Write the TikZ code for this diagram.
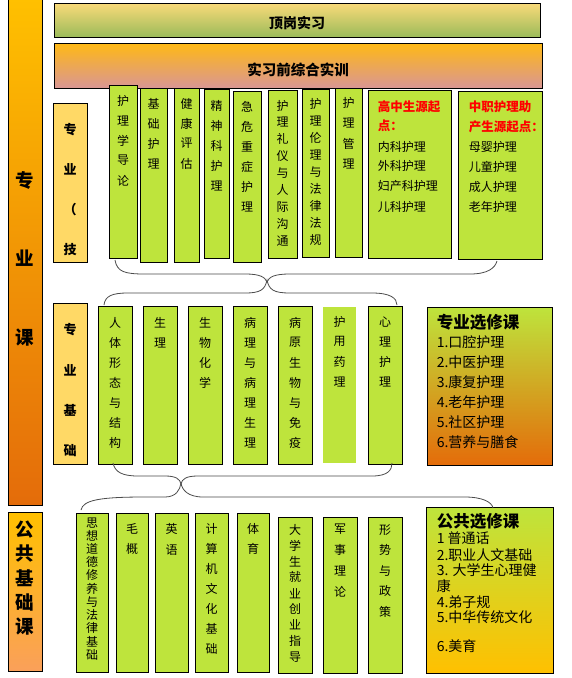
\documentclass[tikz,border=0pt]{standalone}
\usepackage{fontspec}
\newfontfamily\cjk{Noto Sans CJK SC}
\usetikzlibrary{calc}

\definecolor{kgreen}{RGB}{190,228,60}
\definecolor{ktan}{RGB}{255,217,102}
\definecolor{kgold}{RGB}{255,192,0}
\definecolor{korange}{RGB}{228,108,10}
\definecolor{kolive}{RGB}{155,187,89}
\definecolor{kcream}{RGB}{250,218,122}
\definecolor{kamber}{RGB}{255,185,20}
\definecolor{kpink}{RGB}{217,150,148}
\definecolor{kpeach}{RGB}{250,160,90}

\tikzset{
  box/.style={draw, line width=0.8pt, inner sep=0pt},
  col/.style={box, fill=kgreen},
  vch/.style={font={\cjk\fontsize{12}{12}\selectfont}, inner sep=0pt},
  tanch/.style={font={\cjk\bfseries\fontsize{13}{13}\selectfont}, inner sep=0pt},
  bigch/.style={font={\cjk\bfseries\fontsize{18.5}{18.5}\selectfont}, inner sep=0pt},
  item/.style={font={\cjk\fontsize{12}{12}\selectfont}, inner sep=0pt, anchor=west},
  reditem/.style={item, font={\cjk\bfseries\fontsize{12.5}{12.5}\selectfont}, text=red},
  optitem/.style={item, font={\cjk\fontsize{14}{14}\selectfont}},
  opttitle/.style={item, font={\cjk\bfseries\fontsize{16.5}{16.5}\selectfont}},
  brace/.style={line width=0.8pt, black!70},
}

% vertical text: box name, first offset, step, characters
\newcommand{\vtext}[5][vch]{%
  \foreach \ch [count=\i from 0] in {#5}
    \node[#1] (#2-\i) at ($(#2.north)+(0,{#3+\i*#4})$) {\ch};}

\begin{document}
\begin{tikzpicture}[x=1pt,y=-1pt]
	\path[use as bounding box, fill=white] (0,0) rectangle (571,678);

	% Bars
	\node[box, top color=kgold, bottom color=korange, minimum width=34pt, minimum height=506pt] (lbar) at (25,252) {};
	\node[box, top color=kcream, bottom color=kolive, minimum width=486pt, minimum height=34pt] (top) at (297,20) {};
	\node[box, top color=kamber, bottom color=kpink, minimum width=488pt, minimum height=45pt] (pre) at (298,65.5) {};
	\node[font={\cjk\bfseries\fontsize{14}{14}\selectfont}] (top-t) at ($(top.center)+(0,3)$) {顶岗实习};
	\node[font={\cjk\bfseries\fontsize{14.5}{14.5}\selectfont}] (pre-t) at ($(pre.center)+(0,4)$) {实习前综合实训};
	\node[bigch] (lbar-0) at (25,180) {专};
	\node[bigch] (lbar-1) at (25,258) {业};
	\node[bigch] (lbar-2) at (25,338) {课};

	% Top row
	\node[box, fill=ktan, minimum width=34pt, minimum height=159pt] (zy1) at (70,182.5) {};
	\node[col, minimum width=28pt, minimum height=173pt] (t1) at (123,171.5) {};
	\node[col, minimum width=27pt, minimum height=174pt] (t2) at (153.5,175) {};
	\node[col, minimum width=25pt, minimum height=174pt] (t3) at (186.5,175) {};
	\node[col, minimum width=25pt, minimum height=169pt] (t4) at (216.5,173.5) {};
	\node[col, minimum width=28pt, minimum height=171pt] (t5) at (247,176.5) {};
	\node[col, minimum width=29pt, minimum height=168pt] (t6) at (282.5,174) {};
	\node[col, minimum width=27pt, minimum height=168pt] (t7) at (315.5,173) {};
	\node[col, minimum width=27pt, minimum height=169pt] (t8) at (348.5,172.5) {};
	\node[col, minimum width=83pt, minimum height=168pt] (t9) at (409.5,174) {};
	\node[col, minimum width=84pt, minimum height=168pt] (t10) at (500,175) {};

	\vtext[tanch]{zy1}{27}{40}{专,业,（,技}
	\vtext{t1}{16}{20}{护,理,学,导,论}
	\vtext{t2}{16}{20}{基,础,护,理}
	\vtext{t3}{16}{20}{健,康,评,估}
	\vtext{t4}{17}{20}{精,神,科,护,理}
	\vtext{t5}{16}{20}{急,危,重,症,护,理}
	\vtext{t6}{16}{16.9}{护,理,礼,仪,与,人,际,沟,通}
	\vtext{t7}{15}{17.1}{护,理,伦,理,与,法,律,法,规}
	\vtext{t8}{15}{20.5}{护,理,管,理}

	\node[reditem] (t9-0) at ($(t9.north west)+(10,17)$) {高中生源起};
	\node[reditem] (t9-1) at ($(t9.north west)+(10,36)$) {点：};
	\node[item] (t9-2) at ($(t9.north west)+(10,57)$) {内科护理};
	\node[item] (t9-3) at ($(t9.north west)+(10,76)$) {外科护理};
	\node[item] (t9-4) at ($(t9.north west)+(10,96)$) {妇产科护理};
	\node[item] (t9-5) at ($(t9.north west)+(10,117)$) {儿科护理};

	\node[reditem] (t10-0) at ($(t10.north west)+(11,16)$) {中职护理助};
	\node[reditem] (t10-1) at ($(t10.north west)+(11,36)$) {产生源起点：};
	\node[item] (t10-2) at ($(t10.north west)+(11,56)$) {母婴护理};
	\node[item] (t10-3) at ($(t10.north west)+(11,76)$) {儿童护理};
	\node[item] (t10-4) at ($(t10.north west)+(11,96)$) {成人护理};
	\node[item] (t10-5) at ($(t10.north west)+(11,116)$) {老年护理};

	% Middle row
	\node[box, fill=ktan, minimum width=34pt, minimum height=161pt] (zy2) at (70,383.5) {};
	\node[col, minimum width=34pt, minimum height=158pt] (m1) at (115,385) {};
	\node[col, minimum width=34pt, minimum height=158pt] (m2) at (160,385) {};
	\node[col, minimum width=34pt, minimum height=158pt] (m3) at (205,385) {};
	\node[col, minimum width=34pt, minimum height=158pt] (m4) at (250,385) {};
	\node[col, minimum width=34pt, minimum height=158pt] (m5) at (295,385) {};
	\node[fill=kgreen, inner sep=0pt, minimum width=33pt, minimum height=156pt] (m6) at (339.5,385) {};
	\node[col, minimum width=34pt, minimum height=158pt] (m7) at (385,385) {};
	\node[box, top color=kgreen, bottom color=korange, minimum width=125pt, minimum height=158pt] (zx) at (489.5,386) {};

	\vtext[tanch]{zy2}{27}{40.3}{专,业,基,础}
	\vtext{m1}{17}{20}{人,体,形,态,与,结,构}
	\vtext{m2}{17}{20}{生,理}
	\vtext{m3}{17}{20}{生,物,化,学}
	\vtext{m4}{17}{20}{病,理,与,病,理,生,理}
	\vtext{m5}{17}{20}{病,原,生,物,与,免,疫}
	\vtext{m6}{15}{20}{护,用,药,理}
	\vtext{m7}{16}{20}{心,理,护,理}

	\node[opttitle] (zx-0) at ($(zx.north west)+(10,16)$) {专业选修课};
	\foreach \t [count=\i] in {1.口腔护理,2.中医护理,3.康复护理,4.老年护理,5.社区护理,6.营养与膳食}
		\node[optitem] (zx-\i) at ($(zx.north west)+(10,{16+\i*20})$) {\t};

	% Bottom row
	\node[box, top color=kgold, bottom color=kpeach, minimum width=34pt, minimum height=159pt] (gj) at (25,591.5) {};
	\node[col, minimum width=32pt, minimum height=159pt] (b1) at (92,592.5) {};
	\node[col, minimum width=32pt, minimum height=159pt] (b2) at (132,592.5) {};
	\node[col, minimum width=33pt, minimum height=159pt] (b3) at (171.5,592.5) {};
	\node[col, minimum width=33pt, minimum height=159pt] (b4) at (211.5,592.5) {};
	\node[col, minimum width=32pt, minimum height=159pt] (b5) at (253,592.5) {};
	\node[col, minimum width=34pt, minimum height=156pt] (b6) at (295,595) {};
	\node[col, minimum width=34pt, minimum height=156pt] (b7) at (340,595) {};
	\node[col, minimum width=34pt, minimum height=156pt] (b8) at (385,595) {};
	\node[box, top color=kgreen, bottom color=kgold, minimum width=127pt, minimum height=166pt] (gx) at (489.5,590) {};

	\vtext[bigch]{gj}{18}{24.3}{公,共,基,础,课}
	\vtext{b1}{10}{13.2}{思,想,道,德,修,养,与,法,律,基,础}
	\vtext{b2}{16}{20}{毛,概}
	\vtext{b3}{16}{21}{英,语}
	\vtext{b4}{16}{20}{计,算,机,文,化,基,础}
	\vtext{b5}{16}{20}{体,育}
	\vtext{b6}{13}{15.9}{大,学,生,就,业,创,业,指,导}
	\vtext{b7}{13}{20.7}{军,事,理,论}
	\vtext{b8}{13}{20.5}{形,势,与,政,策}

	\node[opttitle] (gx-0) at ($(gx.north west)+(11,15)$) {公共选修课};
	\node[optitem] (gx-1) at ($(gx.north west)+(11,32)$) {1 普通话};
	\node[optitem] (gx-2) at ($(gx.north west)+(11,49)$) {2.职业人文基础};
	\node[optitem] (gx-3) at ($(gx.north west)+(11,64)$) {3. 大学生心理健};
	\node[optitem] (gx-4) at ($(gx.north west)+(11,80)$) {康};
	\node[optitem] (gx-5) at ($(gx.north west)+(11,96)$) {4.弟子规};
	\node[optitem] (gx-6) at ($(gx.north west)+(11,111)$) {5.中华传统文化};
	\node[optitem] (gx-7) at ($(gx.north west)+(11,140)$) {6.美育};

	% Braces
	\coordinate (br1l) at (115,260);
	\coordinate (br1t) at (267,282);
	\coordinate (br1r) at (497,261);
	\coordinate (br2l) at (104,305);
	\coordinate (br2t) at (267,280);
	\coordinate (br2r) at (397,305);
	\coordinate (br3l) at (113,463);
	\coordinate (br3t) at (181,484);
	\coordinate (br3r) at (392,463);
	\coordinate (br4l) at (81,510);
	\coordinate (br4t) at (181,483);
	\coordinate (br4r) at (493,508);

	\draw[brace] (br1l) .. controls (117,272) and (125,274) .. (145,274) -- (245,274) .. controls (260,274) and (265,277) .. (br1t) .. controls (269,277) and (274,274) .. (290,274) -- (470,274) .. controls (488,274) and (495,268) .. (br1r);
	\draw[brace] (br2l) .. controls (105,296) and (112,293) .. (128,293) -- (245,293) .. controls (260,293) and (265,290) .. (br2t) .. controls (269,290) and (274,293) .. (290,293) -- (372,293) .. controls (390,293) and (397,298) .. (br2r);
	\draw[brace] (br3l) .. controls (115,472) and (122,476) .. (138,476) -- (165,476) .. controls (176,476) and (180,479) .. (br3t) .. controls (182,479) and (186,476) .. (198,476) -- (372,476) .. controls (388,476) and (392,470) .. (br3r);
	\draw[brace] (br4l) .. controls (83,500) and (100,497) .. (145,497) -- (165,497) .. controls (176,497) and (180,490) .. (br4t) .. controls (182,490) and (188,497) .. (203,497) -- (465,497) .. controls (482,497) and (492,502) .. (br4r);
\end{tikzpicture}
\end{document}
